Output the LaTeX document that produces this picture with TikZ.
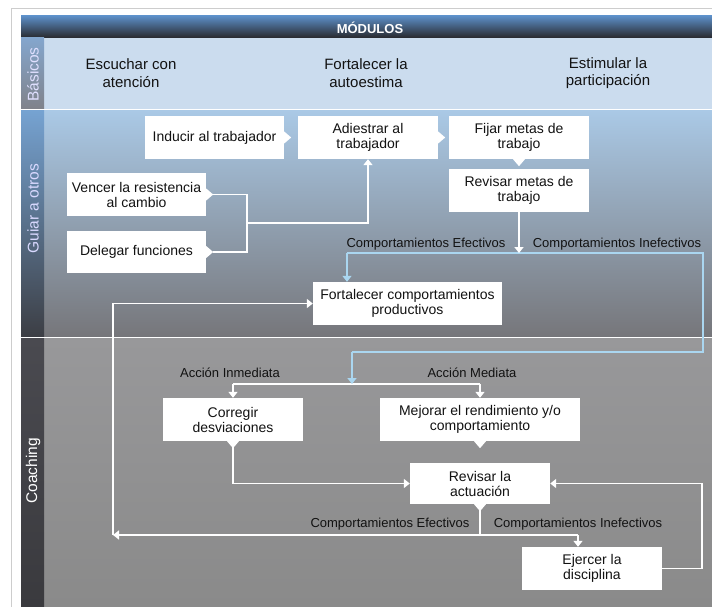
\documentclass[tikz,border=0pt]{standalone}
\usepackage{fontspec}
\setmainfont{Liberation Sans}
\usetikzlibrary{arrows.meta,calc}
\definecolor{txt}{RGB}{18,18,18}
\definecolor{bline}{RGB}{170,214,240}
\definecolor{frameg}{RGB}{205,205,205}
\definecolor{hdrtop}{RGB}{92,142,198}
\definecolor{hdrmid}{RGB}{72,82,98}
\definecolor{hdrbot}{RGB}{40,40,44}
\definecolor{basbg}{RGB}{203,220,238}
\definecolor{bascoltop}{RGB}{132,166,205}
\definecolor{bascolbot}{RGB}{128,130,138}
\definecolor{guitop}{RGB}{170,201,230}
\definecolor{guimid}{RGB}{162,176,192}
\definecolor{guibot}{RGB}{118,118,122}
\definecolor{guicoltop}{RGB}{118,163,210}
\definecolor{guicolbot}{RGB}{60,62,68}
\definecolor{coatop}{RGB}{152,152,154}
\definecolor{coamid}{RGB}{194,194,194}
\definecolor{coabot}{RGB}{138,138,138}
\definecolor{coacoltop}{RGB}{74,74,80}
\definecolor{coacolbot}{RGB}{58,58,62}
\newcommand\ptrE[1]{\fill[white] ([yshift=6pt]#1.east) -- ([xshift=7pt]#1.east) -- ([yshift=-6pt]#1.east) -- cycle;}
\newcommand\ptrS[1]{\fill[white] ([xshift=-6pt]#1.south) -- ([yshift=-7pt]#1.south) -- ([xshift=6pt]#1.south) -- cycle;}
\begin{document}
\begin{tikzpicture}[x=1pt,y=-1pt,
  box/.style={fill=white, inner sep=0pt, align=center, text=txt,
    font=\fontsize{14}{15}\selectfont},
  lbl/.style={inner sep=0pt, text=txt, font=\fontsize{13}{14}\selectfont},
  bas/.style={inner sep=0pt, align=center, text=txt, font=\fontsize{15}{17.5}\selectfont},
  side/.style={inner sep=0pt, rotate=90, font=\fontsize{15.5}{17}\selectfont},
  wl/.style={draw=white, line width=1.8pt},
  wa/.style={wl, -{Triangle[width=9pt,length=6pt]}},
  bl/.style={draw=bline, line width=1.8pt},
  ba/.style={bl, -{Triangle[width=9pt,length=6pt]}}]
\useasboundingbox (0,0) rectangle (712,607);
\fill[white] (0,0) rectangle (712,607);
% outer frame
\draw[frameg, line width=1pt] (11.5,607) -- (11.5,8.5) -- (712,8.5);
% header
\shade[top color=hdrtop, middle color=hdrmid, bottom color=hdrbot] (21,16) rectangle (712,38);
\node[inner sep=0pt, text=white, font=\bfseries\fontsize{13}{14}\selectfont] (hdr) at (370,27.5) {MÓDULOS};
% Basicos row
\fill[basbg] (44,38) rectangle (712,109);
\shade[top color=bascoltop, bottom color=bascolbot] (21,38) rectangle (44,109);
% Guiar row
\shade[top color=guitop, middle color=guimid, bottom color=guibot] (44,110) rectangle (712,337);
\shade[top color=guicoltop, bottom color=guicolbot] (21,110) rectangle (44,337);
% Coaching row
\shade[top color=coatop, middle color=coamid, bottom color=coabot] (44,338) rectangle (712,607);
\shade[top color=coacoltop, bottom color=coacolbot] (21,338) rectangle (44,607);
% separators
\draw[white, line width=1pt] (21,109.5) -- (712,109.5);
\draw[white, line width=1pt] (21,337.5) -- (712,337.5);
% side labels
\node[side, text=white!88!blue] (sbas) at (33,74.5) {Básicos};
\node[side, text=white!85!blue] (sgui) at (33,208.5) {Guiar a otros};
\node[side, text=white] (scoa) at (33,471) {Coaching};
% Basicos texts
\node[bas] (esc) at (131,73) {Escuchar con\\atención};
\node[bas] (fort) at (366,73) {Fortalecer la\\autoestima};
\node[bas] (est) at (608,73) {Estimular la\\participación};
% boxes
\node[box, minimum width=139pt, minimum height=43pt] (inducir) at (214.5,137.5) {Inducir al trabajador};
\node[box, minimum width=140pt, minimum height=43pt] (adiestrar) at (368,137.5) {Adiestrar al\\trabajador};
\node[box, minimum width=140pt, minimum height=43pt] (fijar) at (519,137.5) {Fijar metas de\\trabajo};
\node[box, minimum width=140pt, minimum height=43pt] (revmetas) at (519,190.5) {Revisar metas de\\trabajo};
\node[box, minimum width=139pt, minimum height=43pt] (vencer) at (136.5,194.5) {Vencer la resistencia\\al cambio};
\node[box, minimum width=139pt, minimum height=42pt] (delegar) at (136.5,252) {Delegar funciones};
\node[box, minimum width=189pt, minimum height=43pt] (fortalecer) at (407.5,303.5) {Fortalecer comportamientos\\productivos};
\node[box, minimum width=140pt, minimum height=43pt] (corregir) at (233,419.5) {Corregir\\desviaciones};
\node[box, minimum width=200pt, minimum height=43pt] (mejorar) at (480,419.5) {Mejorar el rendimiento y/o\\comportamiento};
\node[box, minimum width=140pt, minimum height=41pt] (revact) at (480,483.5) {Revisar la\\actuación};
\node[box, minimum width=140pt, minimum height=43pt] (ejercer) at (592,568.5) {Ejercer la\\disciplina};
% pointers
\ptrE{inducir}
\ptrE{adiestrar}
\ptrE{vencer}
\ptrE{delegar}
\ptrS{fijar}
\ptrS{corregir}
\ptrS{mejorar}
\ptrS{revact}
% coordinates
\coordinate (j) at (247,223);
\coordinate (s1) at (519,253);
\coordinate (b1) at (347,253);
\coordinate (b2) at (703,253);
\coordinate (b3) at (703,352);
\coordinate (b4) at (352,352);
\coordinate (b5) at (352,384);
\coordinate (m1) at (233,384);
\coordinate (m2) at (480,384);
\coordinate (r1) at (480,535);
\coordinate (l1) at (113,535);
\coordinate (e1) at (578,535);
% connectors: Guiar
\draw[wl] ([xshift=7pt]vencer.east) -| (j);
\draw[wl] ([xshift=7pt]delegar.east) -| (j);
\draw[wa] (j) -| (adiestrar.south);
\draw[bl] (b1) -- (b2) -- (b3) -- (b4);
\draw[ba] (b1) -- (fortalecer.north -| b1);
\draw[wa] (revmetas.south) -- (s1);
% connectors: Coaching
\draw[wl] (m1) -- (m2);
\draw[wa] (m1) -- (corregir.north);
\draw[wa] (m2) -- (mejorar.north);
\draw[ba] (b4) -- (b5);
\draw[wa] (corregir.south) |- (revact.west);
\draw[wl] (revact.south) -- (r1);
\draw[wa] (r1) -- (l1);
\draw[wl] (r1) -- (e1);
\draw[wa] (e1) -- (ejercer.north -| e1);
\draw[wa] (l1) |- (fortalecer.west);
\draw[wa] (ejercer.east) -- ++(40,0) |- (revact.east);
% labels
\node[lbl] (ce1) at (426,244) {Comportamientos Efectivos};
\node[lbl] (ci1) at (617,244) {Comportamientos Inefectivos};
\node[lbl] (ai) at (230,373) {Acción Inmediata};
\node[lbl] (am) at (472,373) {Acción Mediata};
\node[lbl] (ce2) at (390,524) {Comportamientos Efectivos};
\node[lbl] (ci2) at (578,524) {Comportamientos Inefectivos};
\end{tikzpicture}
\end{document}
